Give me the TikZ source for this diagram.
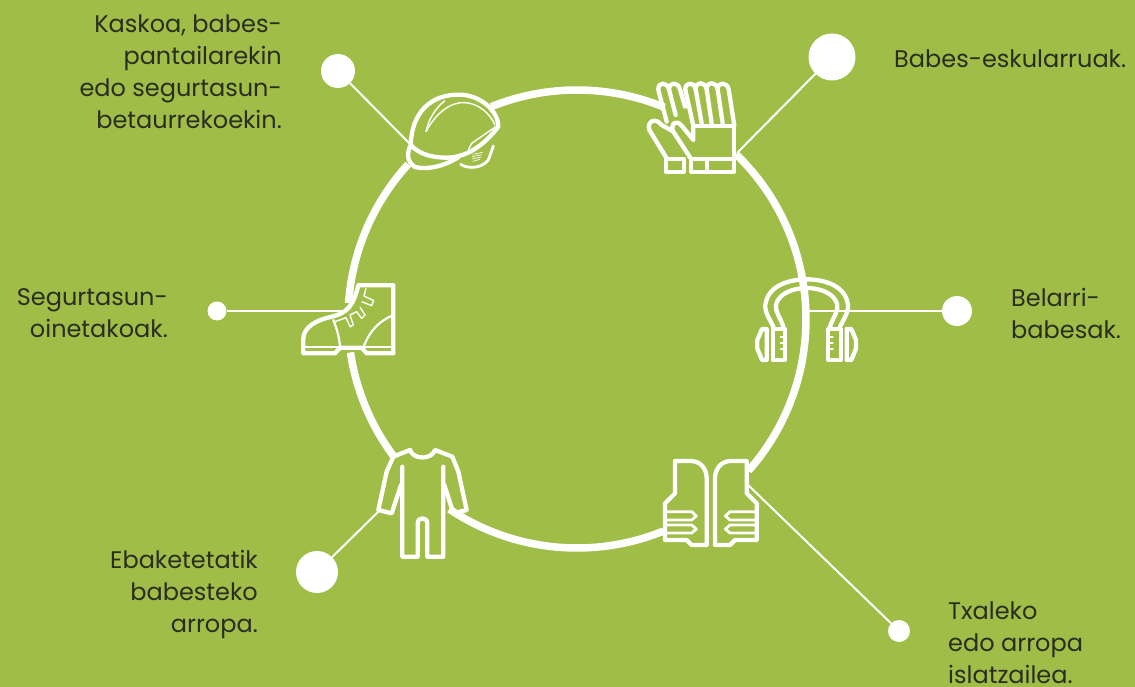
\documentclass[tikz,border=0pt]{standalone}
\usepackage{fontspec}
\setmainfont{Poppins}
\definecolor{bgreen}{HTML}{9FBD47}
\definecolor{ink}{HTML}{2A2E22}
\tikzset{
  ring/.style={draw=white,line width=7.5pt},
  leader/.style={draw=white,line width=2pt},
  dot/.style={circle,fill=white,inner sep=0pt,minimum size=#1},
  lab/.style={text=ink,font=\fontsize{24}{32}\selectfont,inner sep=0pt},
  zoomat/.style={shift={(#1)},x=0.33333pt,y=-0.33333pt},
  icon/.style={draw=white,line width=4.3pt,line join=round,line cap=round},
  iconthin/.style={draw=white,line width=1.4pt,line join=round},
}
\begin{document}
\begin{tikzpicture}[x=1pt,y=-1pt]
\fill[bgreen] (0,0) rectangle (1135,687);
\useasboundingbox (0,0) rectangle (1135,687);
\def\cx{577}\def\cy{319}\def\rr{229}
% ring arcs (angles measured with y pointing up)
\foreach \a/\b in {112/67.6, 46/-41.5, -67.8/-123.9, 216.8/188.4, 176/137.5}{
  \draw[ring] ({\cx+\rr*cos(\a)},{\cy-\rr*sin(\a)}) arc[start angle=-\a,end angle=-\b,radius=\rr];
}
% dots
\node[dot=34pt] (dhelmet) at (338,71) {};
\node[dot=47pt] (dglove) at (832,57) {};
\node[dot=30pt] (dear) at (957,311) {};
\node[dot=22pt] (dvest) at (899,631) {};
\node[dot=42pt] (dsuit) at (317,572) {};
\node[dot=19pt] (dboot) at (217,311) {};
% connector ends
\coordinate (ehelmet) at (412,146);
\coordinate (eglove) at (737,153);
\coordinate (eear) at (808,311);
\coordinate (evest) at (746,483);
\coordinate (esuit) at (381,509);
\coordinate (eboot) at (346,311);
\foreach \d/\e in {dhelmet/ehelmet,dglove/eglove,dear/eear,dvest/evest,dsuit/esuit,dboot/eboot}{
  \draw[leader] (\d) -- (\e);
}
% helmet
\begin{scope}[zoomat={390,70}]
  \draw[icon] (62,225) .. controls (65,130) and (120,72) .. (210,74)
     .. controls (275,76) and (325,125) .. (325,170)
     .. controls (290,215) and (240,262) .. (170,263)
     .. controls (120,263) and (85,250) .. (62,225)
     .. controls (50,250) and (50,275) .. (75,291)
     .. controls (110,300) and (160,290) .. (205,262);
  \draw[icon,line width=2.8pt] (212,283) .. controls (235,298) and (275,295) .. (295,270) -- (310,228);
  \draw[iconthin] (108,185) .. controls (115,150) and (135,115) .. (165,92);
  \draw[iconthin] (108,185) .. controls (140,125) and (185,95) .. (225,98) .. controls (265,100) and (300,130) .. (315,165);
  \draw[iconthin] (320,168) -- (245,220) -- (235,240);
  \foreach \y/\l/\r in {253/248/278,260/246/276,267/246/274,274/248/270}{
    \draw[white,line width=0.7pt] (\l,\y) -- (\r,\y-6);
  }
\end{scope}
% gloves
\begin{scope}[zoomat={630,60}]
  \draw[icon] (190,197) -- (166,90) .. controls (163,68) and (192,62) .. (197,88) -- (215,190);
  \draw[icon] (197,88) .. controls (195,65) and (225,62) .. (230,88) -- (245,190);
  \draw[icon] (230,88) .. controls (228,65) and (258,62) .. (263,88) -- (278,190);
  \draw[icon] (263,88) .. controls (262,65) and (292,65) .. (296,88) -- (313,197);
  \draw[icon] (190,197) -- (313,197) -- (313,295);
  \draw[icon] (190,197) -- (190,240) -- (155,197) .. controls (135,175) and (120,195) .. (130,215) -- (182,295);
  \draw[icon] (110,185) -- (85,90) .. controls (82,65) and (112,65) .. (117,88) -- (137,165);
  \draw[icon] (117,88) .. controls (118,65) and (145,65) .. (150,88) -- (165,140);
  \draw[icon] (130,215) -- (95,195) .. controls (75,170) and (50,185) .. (58,210) -- (110,295);
  \draw[icon] (107,298) rectangle (163,335);
  \draw[icon] (184,298) rectangle (313,335);
  \draw[icon] (231,298) -- (231,335);
\end{scope}
% ear protectors
\begin{scope}[zoomat={740,260}]
  \draw[icon] (100,200) .. controls (85,170) and (70,150) .. (78,125) .. controls (90,75) and (150,58) .. (200,58)
     .. controls (250,58) and (310,75) .. (322,125) .. controls (330,150) and (315,170) .. (300,200);
  \draw[icon] (130,200) .. controls (120,170) and (105,155) .. (108,135) .. controls (115,100) and (160,84) .. (200,84)
     .. controls (240,84) and (285,100) .. (292,135) .. controls (295,155) and (280,170) .. (270,200);
  \draw[icon] (98,207) rectangle (135,300);
  \draw[icon] (265,207) rectangle (302,300);
  \draw[icon] (80,207) -- (66,207) -- (52,240) -- (52,266) -- (66,300) -- (80,300) -- cycle;
  \draw[icon] (320,207) -- (334,207) -- (348,240) -- (348,266) -- (334,300) -- (320,300) -- cycle;
  \foreach \y in {232,250,268}{
    \draw[icon,line width=2.2pt] (122,\y) -- (134,\y);
    \draw[icon,line width=2.2pt] (266,\y) -- (278,\y);
  }
\end{scope}
% vest
\begin{scope}[zoomat={650,445}]
  \foreach \m/\o in {1/0,-1/365}{
    \begin{scope}[shift={(\o,0)},x={(\m*0.33333pt,0pt)}]
      \draw[icon] (75,48) -- (125,48) .. controls (155,50) and (170,75) .. (170,100) -- (170,300) -- (125,300) -- (110,285) -- (45,285) -- (45,175) -- (75,145) -- cycle;
      \draw[icon,line width=2.8pt] (48,200) -- (125,200) -- (139,213) -- (125,225) -- (48,225);
      \draw[icon,line width=2.8pt] (48,240) -- (125,240) -- (139,252) -- (125,264) -- (48,264);
    \end{scope}
  }
\end{scope}
% coverall
\begin{scope}[zoomat={365,435}]
  \draw[icon] (135,45) .. controls (145,75) and (200,75) .. (210,45)
     -- (262,65) -- (280,110) -- (305,225) -- (265,235) -- (238,150);
  \draw[icon] (135,45) -- (85,65) -- (65,110) -- (40,225) -- (80,235) -- (108,150);
  \draw[icon] (112,95) -- (112,365) -- (158,365) -- (158,265) .. controls (158,245) and (187,245) .. (187,265) -- (187,365) -- (235,365) -- (235,95);
\end{scope}
% boot
\begin{scope}[zoomat={290,270}]
  \draw[icon] (205,46) -- (310,46) -- (310,250) -- (230,250) -- (215,233) -- (150,233) -- (135,250) -- (40,250) -- (40,205)
     .. controls (42,170) and (80,150) .. (125,140) .. controls (175,128) and (190,105) .. (205,46);
  \draw[icon,line width=2.2pt] (40,230) -- (310,230);
  \draw[icon,line width=2.2pt] (130,150) .. controls (142,180) and (148,205) .. (150,230);
  \draw[icon,line width=2.2pt] (222,228) .. controls (240,180) and (270,152) .. (310,135);
  \draw[iconthin] (135,155) -- (168,143) -- (180,170) -- (190,165) -- (180,135);
  \draw[iconthin] (180,135) -- (200,125) -- (215,145) -- (225,135) -- (210,112);
  \draw[iconthin] (215,95) -- (245,107) -- (251,92) -- (222,78) -- (228,55);
\end{scope}
% labels
\node[lab,anchor=east,align=right] (thelmet) at (282,72) {Kaskoa, babes-\\pantailarekin\\edo segurtasun-\\betaurrekoekin.};
\node[lab,anchor=west,align=left] (tglove) at (894,59) {Babes-eskularruak.};
\node[lab,anchor=west,align=left] (tear) at (1011,313) {Belarri-\\babesak.};
\node[lab,anchor=west,align=left] (tvest) at (948,643) {Txaleko\\edo arropa\\islatzailea.};
\node[lab,anchor=east,align=right] (tsuit) at (258,594) {Ebaketetatik\\babesteko\\arropa.};
\node[lab,anchor=east,align=right] (tboot) at (168,313) {Segurtasun-\\oinetakoak.};
\end{tikzpicture}
\end{document}
